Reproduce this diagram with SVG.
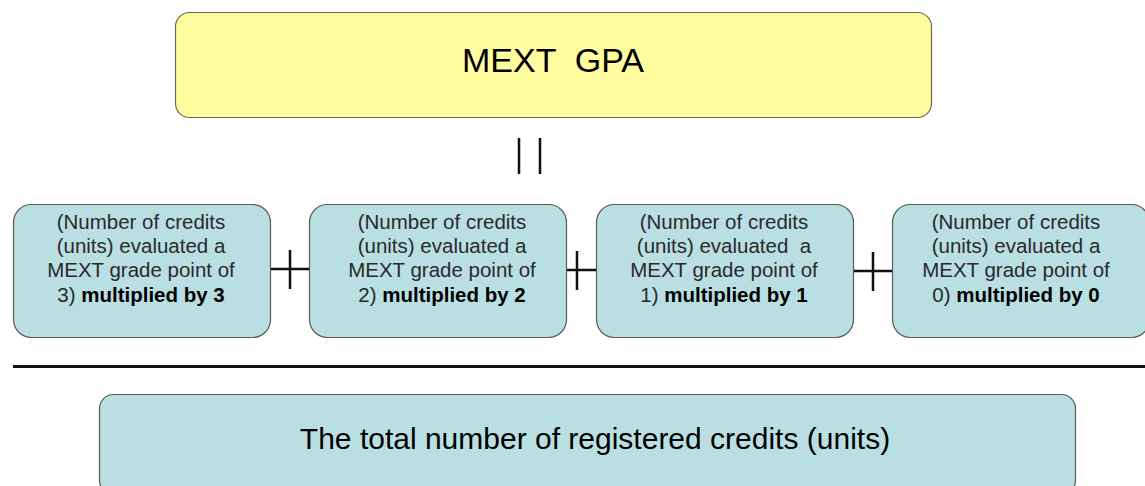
<svg xmlns="http://www.w3.org/2000/svg" width="1145" height="486" viewBox="0 0 1145 486">
<style>
.box{fill:#b9dfe3;stroke:#5a5a5a;stroke-width:1.2}
.t{font-family:"Liberation Sans",Arial,sans-serif;font-size:20.5px;fill:#2a2a2a;text-anchor:middle}
.b{font-weight:bold;fill:#000}
.ln{stroke:#111;stroke-width:2.5;fill:none}
</style>
<rect width="1145" height="486" fill="#fff"/>
<g id="gpa">
<rect x="175.5" y="12.5" width="756" height="105" rx="14" fill="#fefc9c" stroke="#6b6b55" stroke-width="1.2"/>
<text x="553" y="72" font-family="Liberation Sans,Arial,sans-serif" font-size="34" text-anchor="middle" fill="#000" xml:space="preserve">MEXT  GPA</text>
</g>
<g id="box3">
<rect class="box" x="13.5" y="204.5" width="257" height="133" rx="18"/>
<text class="t" x="141" y="229">(Number of credits</text>
<text class="t" x="141" y="253">(units) evaluated a</text>
<text class="t" x="141" y="277">MEXT grade point of</text>
<text class="t" x="141" y="302">3) <tspan class="b">multiplied by 3</tspan></text>
</g>
<g id="box2">
<rect class="box" x="309.5" y="204.5" width="257" height="133" rx="18"/>
<text class="t" x="442" y="229">(Number of credits</text>
<text class="t" x="442" y="253">(units) evaluated a</text>
<text class="t" x="442" y="277">MEXT grade point of</text>
<text class="t" x="442" y="302">2) <tspan class="b">multiplied by 2</tspan></text>
</g>
<g id="box1">
<rect class="box" x="596.5" y="204.5" width="257" height="133" rx="18"/>
<text class="t" x="724" y="229">(Number of credits</text>
<text class="t" x="724" y="253" xml:space="preserve">(units) evaluated  a</text>
<text class="t" x="724" y="277">MEXT grade point of</text>
<text class="t" x="724" y="302">1) <tspan class="b">multiplied by 1</tspan></text>
</g>
<g id="box0">
<rect class="box" x="892.5" y="204.5" width="257" height="133" rx="18"/>
<text class="t" x="1016" y="229">(Number of credits</text>
<text class="t" x="1016" y="253">(units) evaluated a</text>
<text class="t" x="1016" y="277">MEXT grade point of</text>
<text class="t" x="1016" y="302">0) <tspan class="b">multiplied by 0</tspan></text>
</g>
<g id="total">
<rect class="box" x="99.5" y="394.5" width="976" height="100" rx="14"/>
<text x="595" y="449" font-family="Liberation Sans,Arial,sans-serif" font-size="30" text-anchor="middle" fill="#000">The total number of registered credits (units)</text>
</g>
<g id="connectors">
<path class="ln" d="M519 138V174M540 138V174"/>
<path class="ln" d="M271 269H309M290 250V289"/>
<path class="ln" d="M567 270H596M577 251V290"/>
<path class="ln" d="M854 271H892M873 252V291"/>
<path d="M13 366.5H1145" stroke="#111" stroke-width="3"/>
</g>
</svg>
